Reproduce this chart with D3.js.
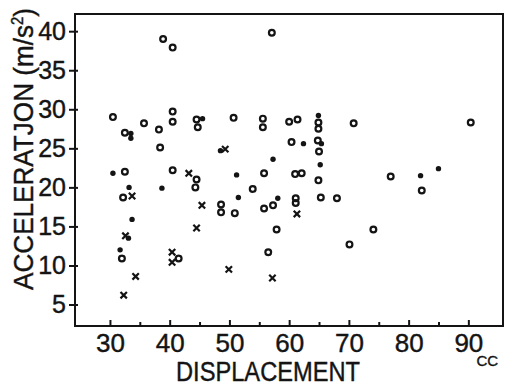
<!DOCTYPE html>
<html>
<head>
<meta charset="utf-8">
<script src="https://cdn.jsdelivr.net/npm/d3@7"></script>
<style>
  body { margin: 0; background: #fff; }
  text { font-family: "Liberation Sans", Arial, sans-serif; fill: #141414; stroke: #141414; stroke-width: 0.4px; }
</style>
</head>
<body>
<div id="scatter"></div>
<script>
// displacement (cc) / acceleration (m/s2), one pair of arrays per marker type
var openDisp = [38.9, 40.5, 57.1, 30.5, 32.5, 35.7, 38.2, 38.4, 40.5, 40.5, 44.5, 44.7, 50.7,
  55.6, 55.6, 60.0, 61.4, 64.9, 64.9, 70.8, 90.4, 60.4, 64.8, 65.0,
  32.5, 40.5, 44.5, 44.3, 53.9, 55.8, 61.0, 62.1, 64.9, 77.0, 82.2,
  32.2, 48.6, 48.6, 50.9, 55.8, 57.3, 61.1, 61.1, 65.3, 68.0,
  57.9, 74.1, 70.1, 56.5, 32.0, 41.5];
var openAcc = [39.0, 37.9, 39.8, 29.0, 27.0, 28.2, 27.4, 25.1, 29.7, 28.4, 28.7, 27.7, 28.9,
  28.8, 27.7, 28.4, 28.7, 28.3, 27.5, 28.2, 28.3, 25.8, 26.0, 24.6,
  22.0, 22.2, 21.0, 20.0, 19.8, 21.8, 21.7, 21.8, 20.9, 21.4, 19.6,
  18.7, 17.8, 16.8, 16.7, 17.3, 17.7, 18.6, 18.0, 18.7, 18.6,
  14.6, 14.6, 12.7, 11.7, 10.9, 10.9];

var dotDisp = [33.5, 33.5, 45.5, 64.9, 48.5, 62.4, 65.4, 57.3, 65.2,
  30.5, 51.2, 82.0, 85.0, 33.2, 38.7, 51.5, 58.1, 33.7, 33.1, 31.7];
var dotAcc = [26.9, 26.3, 28.8, 29.2, 24.7, 25.6, 25.6, 23.6, 22.9,
  21.8, 21.6, 21.5, 22.4, 20.0, 19.9, 18.7, 18.6, 15.9, 13.5, 12.0];

var crossDisp = [49.3, 43.2, 33.7, 45.4, 61.3, 44.5, 32.6, 40.4, 40.4, 34.3, 32.3, 49.9, 57.2];
var crossAcc = [24.9, 21.8, 18.9, 17.7, 16.6, 14.8, 13.8, 11.7, 10.4, 8.6, 6.2, 9.5, 8.4];

var xTicks = [30, 40, 50, 60, 70, 80, 90];
var xMinorTicks = [35, 45, 55, 65, 75, 85];
var yTicks = [5, 10, 15, 20, 25, 30, 35, 40];

var width = 512, height = 386;
var margin = { top: 14, right: 9, bottom: 60, left: 75 };

var svg = d3.select("#scatter").append("svg")
  .attr("width", width)
  .attr("height", height);

var x = d3.scaleLinear().domain([24.15, 95.8]).range([margin.left, width - margin.right]);
var y = d3.scaleLinear().domain([2.25, 42.2]).range([height - margin.bottom, margin.top]);

var ink = "#141414";

// frame
svg.append("rect")
  .attr("x", margin.left)
  .attr("y", margin.top)
  .attr("width", width - margin.left - margin.right)
  .attr("height", height - margin.top - margin.bottom)
  .attr("fill", "none")
  .attr("stroke", ink)
  .attr("stroke-width", 2);

// x axis: ticks point into the plot
var xAxis = svg.append("g")
  .attr("transform", "translate(0," + (height - margin.bottom) + ")")
  .call(d3.axisBottom(x).tickValues(xTicks).tickSize(-6).tickSizeOuter(0).tickPadding(8));
xAxis.select(".domain").remove();
xAxis.selectAll("line").attr("stroke", ink).attr("stroke-width", 2);
xAxis.selectAll("text").style("font-size", "26px").attr("fill", ink);
// little "cc" after 90
xAxis.append("text")
  .attr("x", x(90) + 19)
  .attr("y", 40)
  .style("font-size", "15px")
  .attr("fill", ink)
  .text("CC");

svg.append("g")
  .attr("transform", "translate(0," + (height - margin.bottom) + ")")
  .call(d3.axisBottom(x).tickValues(xMinorTicks).tickSize(-4).tickFormat(""))
  .call(function (g) {
    g.select(".domain").remove();
    g.selectAll("line").attr("stroke", ink).attr("stroke-width", 2);
  });

// y axis: ticks cross the frame line
var yAxis = svg.append("g")
  .attr("transform", "translate(" + margin.left + ",0)")
  .call(d3.axisLeft(y).tickValues(yTicks).tickSize(6).tickSizeOuter(0).tickPadding(3));
yAxis.select(".domain").remove();
yAxis.selectAll("line").attr("x1", 3).attr("stroke", ink).attr("stroke-width", 2);
yAxis.selectAll("text").style("font-size", "25px").attr("fill", ink);

// axis titles
svg.append("text")
  .attr("x", 268)
  .attr("y", 381)
  .attr("text-anchor", "middle")
  .attr("textLength", 184)
  .attr("lengthAdjust", "spacingAndGlyphs")
  .style("font-size", "27px")
  .text("DISPLACEMENT");

var yTitle = svg.append("text")
  .attr("transform", "translate(33,149) rotate(-90)")
  .attr("text-anchor", "middle")
  .attr("textLength", 282)
  .attr("lengthAdjust", "spacingAndGlyphs")
  .style("font-size", "28px");
yTitle.append("tspan").text("ACCELERATJON (m/s");
yTitle.append("tspan").attr("dy", -10).style("font-size", "16px").text("2");
yTitle.append("tspan").attr("dy", 10).text(")");

// markers
svg.append("g").selectAll("circle")
  .data(d3.zip(openDisp, openAcc))
  .enter().append("circle")
  .attr("cx", function (d) { return x(d[0]); })
  .attr("cy", function (d) { return y(d[1]); })
  .attr("r", 2.9)
  .attr("fill", "none")
  .attr("stroke", ink)
  .attr("stroke-width", 2.2);

svg.append("g").selectAll("circle")
  .data(d3.zip(dotDisp, dotAcc))
  .enter().append("circle")
  .attr("cx", function (d) { return x(d[0]); })
  .attr("cy", function (d) { return y(d[1]); })
  .attr("r", 2.7)
  .attr("fill", ink);

svg.append("g").selectAll("path")
  .data(d3.zip(crossDisp, crossAcc))
  .enter().append("path")
  .attr("transform", function (d) { return "translate(" + x(d[0]) + "," + y(d[1]) + ")"; })
  .attr("d", "M-3.2,-3.2L3.2,3.2M-3.2,3.2L3.2,-3.2")
  .attr("stroke", ink)
  .attr("stroke-width", 2.2)
  .attr("fill", "none");
</script>
</body>
</html>
